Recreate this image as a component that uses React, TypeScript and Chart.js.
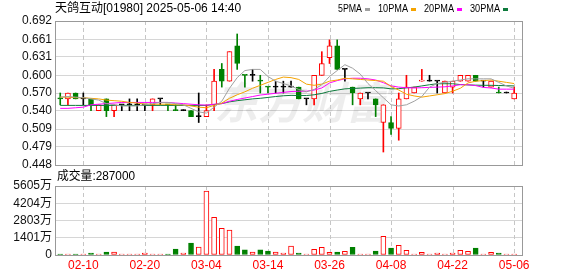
import React, { useEffect, useRef } from 'react';
import { Chart, registerables } from 'chart.js';

Chart.register(...registerables);

// ---------- data ----------
const TITLE = '天鸽互动[01980] 2025-05-06 14:40';
const VOLUME_LABEL = '成交量:287000';
const WATERMARK = '东方财富';

const dates = [
  '02-05', '02-06', '02-07', '02-10', '02-11', '02-12', '02-13', '02-14', '02-17', '02-18',
  '02-19', '02-20', '02-21', '02-24', '02-25', '02-26', '02-27', '02-28', '03-03', '03-04',
  '03-05', '03-06', '03-07', '03-10', '03-11', '03-12', '03-13', '03-14', '03-17', '03-18',
  '03-19', '03-20', '03-21', '03-24', '03-25', '03-26', '03-27', '03-28', '03-31', '04-01',
  '04-02', '04-03', '04-07', '04-08', '04-09', '04-10', '04-11', '04-14', '04-15', '04-16',
  '04-17', '04-22', '04-23', '04-24', '04-25', '04-28', '04-29', '04-30', '05-02', '05-06',
];

const dateTickLabels = ['02-10', '02-20', '03-04', '03-14', '03-26', '04-08', '04-22', '05-06'];

const prevCloseBefore = 0.57;

const opens = [
  0.56, 0.56, 0.57, 0.56, 0.56, 0.54, 0.56, 0.54, 0.55, 0.55,
  0.55, 0.55, 0.55, 0.56, 0.55, 0.54, 0.54, 0.54, 0.53, 0.53,
  0.55, 0.61, 0.59, 0.65, 0.60, 0.60, 0.59, 0.58, 0.58, 0.58,
  0.58, 0.58, 0.56, 0.56, 0.60, 0.63, 0.65, 0.61, 0.58, 0.56,
  0.57, 0.56, 0.52, 0.52, 0.51, 0.56, 0.57, 0.59, 0.59, 0.59,
  0.57, 0.58, 0.59, 0.59, 0.60, 0.59, 0.58, 0.57, 0.57, 0.56,
];
const highs = [
  0.57, 0.57, 0.57, 0.57, 0.56, 0.55, 0.56, 0.55, 0.55, 0.56,
  0.56, 0.55, 0.56, 0.56, 0.55, 0.55, 0.54, 0.54, 0.57, 0.55,
  0.61, 0.62, 0.64, 0.67, 0.60, 0.61, 0.60, 0.58, 0.59, 0.59,
  0.59, 0.58, 0.56, 0.60, 0.64, 0.66, 0.66, 0.61, 0.58, 0.57,
  0.57, 0.56, 0.55, 0.53, 0.57, 0.60, 0.58, 0.61, 0.60, 0.59,
  0.59, 0.59, 0.60, 0.60, 0.60, 0.59, 0.59, 0.58, 0.57, 0.58,
];
const lows = [
  0.55, 0.55, 0.56, 0.55, 0.54, 0.54, 0.53, 0.53, 0.54, 0.54,
  0.54, 0.54, 0.54, 0.55, 0.54, 0.54, 0.54, 0.53, 0.52, 0.53,
  0.54, 0.58, 0.59, 0.61, 0.58, 0.59, 0.57, 0.57, 0.57, 0.57,
  0.58, 0.56, 0.55, 0.55, 0.60, 0.62, 0.61, 0.59, 0.55, 0.55,
  0.56, 0.53, 0.47, 0.50, 0.49, 0.56, 0.57, 0.59, 0.59, 0.57,
  0.57, 0.57, 0.59, 0.59, 0.59, 0.58, 0.58, 0.57, 0.57, 0.56,
];
const closes = [
  0.56, 0.57, 0.56, 0.56, 0.55, 0.55, 0.54, 0.55, 0.55, 0.55,
  0.55, 0.55, 0.56, 0.56, 0.55, 0.54, 0.54, 0.53, 0.53, 0.54,
  0.59, 0.59, 0.64, 0.62, 0.60, 0.60, 0.59, 0.58, 0.58, 0.58,
  0.58, 0.56, 0.56, 0.60, 0.62, 0.65, 0.61, 0.61, 0.57, 0.57,
  0.57, 0.55, 0.55, 0.51, 0.56, 0.58, 0.58, 0.59, 0.59, 0.59,
  0.59, 0.59, 0.60, 0.60, 0.59, 0.59, 0.59, 0.57, 0.57, 0.57,
];

// volume in 万 shares
const volumes = [
  80, 60, 80, 80, 160, 80, 240, 240, 80, 80,
  80, 160, 80, 80, 80, 490, 160, 970, 650, 5200,
  3060, 2170, 2030, 730, 430, 240, 410, 320, 240, 160,
  730, 160, 80, 460, 620, 220, 240, 300, 620, 80,
  80, 320, 1520, 570, 790, 380, 80, 220, 80, 160,
  80, 160, 380, 300, 570, 80, 220, 160, 80, 28.7,
];

const ma5 = [
  0.563, 0.564, 0.563, 0.562, 0.560, 0.558, 0.552, 0.550, 0.548, 0.548,
  0.548, 0.550, 0.552, 0.554, 0.554, 0.552, 0.550, 0.544, 0.538, 0.536,
  0.546, 0.556, 0.578, 0.596, 0.608, 0.610, 0.610, 0.598, 0.590, 0.586,
  0.582, 0.576, 0.572, 0.576, 0.584, 0.598, 0.608, 0.618, 0.612, 0.602,
  0.586, 0.574, 0.562, 0.550, 0.548, 0.550, 0.556, 0.564, 0.580, 0.586,
  0.588, 0.590, 0.592, 0.594, 0.594, 0.594, 0.594, 0.588, 0.582, 0.578,
];
const ma10 = [
  0.563, 0.563, 0.562, 0.562, 0.561, 0.560, 0.558, 0.557, 0.556, 0.554,
  0.553, 0.551, 0.551, 0.551, 0.551, 0.550, 0.550, 0.548, 0.546, 0.545,
  0.549, 0.553, 0.561, 0.567, 0.572, 0.578, 0.583, 0.588, 0.593, 0.597,
  0.596, 0.593, 0.585, 0.583, 0.585, 0.590, 0.592, 0.595, 0.594, 0.593,
  0.592, 0.591, 0.590, 0.581, 0.575, 0.568, 0.565, 0.563, 0.565, 0.567,
  0.569, 0.573, 0.578, 0.587, 0.590, 0.591, 0.592, 0.590, 0.588, 0.586,
];
const ma20 = [
  0.544, 0.544, 0.545, 0.546, 0.550, 0.551, 0.552, 0.553, 0.554, 0.554,
  0.554, 0.554, 0.554, 0.554, 0.554, 0.553, 0.552, 0.551, 0.550, 0.5495,
  0.551, 0.552, 0.556, 0.559, 0.5615, 0.564, 0.5665, 0.568, 0.5695, 0.571,
  0.5725, 0.573, 0.573, 0.575, 0.5785, 0.587, 0.591, 0.594, 0.595, 0.595,
  0.594, 0.592, 0.5875, 0.582, 0.580, 0.579, 0.5785, 0.579, 0.5795, 0.580,
  0.5805, 0.582, 0.584, 0.584, 0.5825, 0.5795, 0.5785, 0.5765, 0.5765, 0.5765,
];
const ma30 = [
  0.549, 0.549, 0.549, 0.549, 0.549, 0.549, 0.549, 0.549, 0.549, 0.549,
  0.549, 0.549, 0.549, 0.549, 0.549, 0.549, 0.549, 0.549, 0.549, 0.549,
  0.5505, 0.552, 0.555, 0.557, 0.5585, 0.560, 0.561, 0.5625, 0.564, 0.5653,
  0.566, 0.5657, 0.5657, 0.567, 0.5693, 0.5727, 0.575, 0.577, 0.5777, 0.5783,
  0.579, 0.579, 0.5787, 0.577, 0.5773, 0.5787, 0.580, 0.582, 0.584, 0.5857,
  0.5857, 0.5857, 0.5843, 0.5837, 0.5833, 0.583, 0.583, 0.5827, 0.5823, 0.582,
];

const maLabels = ['5PMA', '10PMA', '20PMA', '30PMA'];

const priceTicks = [0.692, 0.661, 0.631, 0.600, 0.570, 0.540, 0.509, 0.479, 0.448];
const priceTickLabels = ['0.692', '0.661', '0.631', '0.600', '0.570', '0.540', '0.509', '0.479', '0.448'];
const volumeTicks = [5605, 4204, 2803, 1401, 0];
const volumeTickLabels = ['5605万', '4204万', '2803万', '1401万', '0'];

// ---------- styles ----------
const UP = '#ff0000';
const DOWN = '#008000';
const FLAT = '#000000';
const MA_COLORS = ['#a0a0a0', '#f5a300', '#ff00ff', '#0d7a3c'];
const GRID = '#d6d6d6';
const FRAME = '#999999';
const FONT = '"Liberation Sans", "Noto Sans CJK SC", sans-serif';

const kinds = closes.map((c, i) => {
  const o = opens[i];
  if (c > o) return 'up';
  if (c < o) return 'down';
  const p = i === 0 ? prevCloseBefore : closes[i - 1];
  return c > p ? 'up' : c < p ? 'down' : 'flat';
});
const kindColor = (k: string) => (k === 'up' ? UP : k === 'down' ? DOWN : FLAT);
const volUp = closes.map((c, i) => c >= (i === 0 ? prevCloseBefore : closes[i - 1]));

const overlay = {
  id: 'overlay',
  beforeDatasetsDraw(chart: any) {
    const { ctx } = chart;
    const xs = chart.scales.x;
    const yp = chart.scales.y;
    const yv = chart.scales.yVol;
    ctx.save();
    // watermark
    ctx.fillStyle = 'rgba(0,0,0,0.07)';
    ctx.font = 'italic bold 44px "Noto Sans CJK SC"';
    ctx.textBaseline = 'middle';
    ctx.textAlign = 'left';
    ctx.fillText(WATERMARK, 214, 102);
    // dashed vertical date lines
    ctx.strokeStyle = '#c6c6c6';
    ctx.lineWidth = 1;
    ctx.setLineDash([4, 3]);
    ctx.beginPath();
    for (const t of xs.ticks) {
      const px = Math.round(xs.getPixelForValue(t.value)) + 0.5;
      ctx.moveTo(px, yp.top);
      ctx.lineTo(px, yp.bottom);
      ctx.moveTo(px, yv.top);
      ctx.lineTo(px, yv.bottom);
    }
    ctx.stroke();
    ctx.restore();
  },
  afterDraw(chart: any) {
    const { ctx, chartArea } = chart;
    const yp = chart.scales.y;
    const yv = chart.scales.yVol;
    ctx.save();
    // frames
    ctx.strokeStyle = FRAME;
    ctx.lineWidth = 1;
    const L = Math.round(chartArea.left) + 0.5;
    const R = Math.round(chartArea.right) - 0.5;
    for (const s of [yp, yv]) {
      const T = Math.round(s.top) + 0.5;
      const B = Math.round(s.bottom) + 0.5;
      ctx.strokeRect(L, T, R - L, B - T);
    }
    // title
    ctx.fillStyle = '#000';
    ctx.textBaseline = 'middle';
    ctx.textAlign = 'left';
    ctx.font = `12px ${FONT}`;
    ctx.fillText(TITLE, 55, 9, 192);
    // volume label
    ctx.fillText(VOLUME_LABEL, 57, 177, 78);
    // legend
    ctx.font = `11px ${FONT}`;
    let x = 338;
    maLabels.forEach((lab, i) => {
      const w = 6 * lab.length;
      ctx.fillStyle = '#000';
      ctx.fillText(lab, x, 9, w);
      x += w + 3;
      ctx.fillStyle = MA_COLORS[i];
      ctx.fillRect(Math.round(x), 8, 5, 3);
      x += 5 + 8;
    });
    ctx.restore();
  },
};

export default function App() {
  const ref = useRef<HTMLCanvasElement>(null);

  useEffect(() => {
    const idx = dates.map((_, i) => i);
    const tickIdx = dateTickLabels.map((d) => dates.indexOf(d));
    const maSets = [ma5, ma10, ma20, ma30].map((arr, k) => ({
      type: 'line' as const,
      label: maLabels[k],
      yAxisID: 'y',
      data: arr.map((v, i) => ({ x: i, y: v })),
      borderColor: MA_COLORS[k],
      borderWidth: 1,
      pointRadius: 0,
      tension: 0,
      fill: false,
      order: 0,
    }));

    const chart = new Chart(ref.current as HTMLCanvasElement, {
      type: 'bar',
      data: {
        datasets: [
          ...maSets,
          {
            type: 'bar',
            label: 'body',
            yAxisID: 'y',
            data: idx.map((i) => ({ x: i, y: [opens[i], closes[i]] })) as any,
            backgroundColor: kinds.map((k) => (k === 'up' ? '#ffffff' : kindColor(k))),
            borderColor: kinds.map(kindColor),
            borderWidth: 1,
            borderSkipped: false,
            barThickness: 5,
            minBarLength: 1,
            grouped: false,
            order: 1,
          } as any,
          {
            type: 'bar',
            label: 'wick',
            yAxisID: 'y',
            data: idx.map((i) => ({ x: i, y: [lows[i], highs[i]] })) as any,
            backgroundColor: kinds.map(kindColor),
            borderWidth: 0,
            barThickness: 1,
            minBarLength: 1,
            grouped: false,
            order: 2,
          } as any,
          {
            type: 'bar',
            label: 'volume',
            yAxisID: 'yVol',
            data: idx.map((i) => ({ x: i, y: volumes[i] })) as any,
            backgroundColor: volUp.map((u) => (u ? '#ffffff' : DOWN)),
            borderColor: volUp.map((u) => (u ? UP : DOWN)),
            borderWidth: 1,
            borderSkipped: false,
            barThickness: 5,
            minBarLength: 1,
            grouped: false,
            order: 3,
          } as any,
        ],
      },
      options: {
        animation: false,
        responsive: false,
        devicePixelRatio: 1,
        events: [],
        layout: { padding: { top: 21, right: 55, left: 0, bottom: 0 } },
        plugins: { legend: { display: false }, tooltip: { enabled: false } },
        scales: {
          x: {
            type: 'linear',
            min: -0.68,
            max: 60.15,
            offset: false,
            afterBuildTicks: (s: any) => {
              s.ticks = tickIdx.map((v) => ({ value: v }));
            },
            afterFit: (s: any) => {
              s.height = 21;
            },
            ticks: {
              callback: (_v: any, i: number) => dateTickLabels[i],
              color: '#ff0000',
              font: { size: 12, family: FONT },
              padding: 3,
              maxRotation: 0,
              autoSkip: false,
            },
            grid: { display: false, drawTicks: false },
            border: { display: false },
          },
          yVol: {
            type: 'linear',
            position: 'left',
            stack: 'main',
            stackWeight: 69,
            min: 0,
            max: 5605,
            afterBuildTicks: (s: any) => {
              s.ticks = volumeTicks.map((v) => ({ value: v }));
            },
            afterFit: (s: any) => {
              s.width = 55;
            },
            ticks: {
              callback: (_v: any, i: number) => volumeTickLabels[i],
              color: '#111',
              font: { size: 12, family: FONT },
              padding: 3,
              autoSkip: false,
            },
            grid: { color: GRID, drawTicks: false },
            border: { display: false },
          },
          yGap: {
            type: 'linear',
            position: 'left',
            stack: 'main',
            stackWeight: 21,
            min: 0,
            max: 1,
            afterFit: (s: any) => {
              s.width = 55;
            },
            ticks: { display: false },
            grid: { display: false, drawTicks: false },
            border: { display: false },
          },
          y: {
            type: 'linear',
            position: 'left',
            stack: 'main',
            stackWeight: 144,
            min: 0.448,
            max: 0.692,
            afterBuildTicks: (s: any) => {
              s.ticks = priceTicks.map((v) => ({ value: v }));
            },
            afterFit: (s: any) => {
              s.width = 55;
            },
            ticks: {
              callback: (_v: any, i: number) => priceTickLabels[i],
              color: '#111',
              font: { size: 12, family: FONT },
              padding: 3,
              autoSkip: false,
            },
            grid: { color: GRID, drawTicks: false },
            border: { display: false },
          },
        } as any,
      },
      plugins: [overlay],
    });
    return () => chart.destroy();
  }, []);

  return (
    <div style={{ position: 'absolute', left: 0, top: 0, width: 578, height: 276, background: '#fff' }}>
      <canvas ref={ref} width={578} height={276} style={{ display: 'block', width: 578, height: 276 }} />
    </div>
  );
}
